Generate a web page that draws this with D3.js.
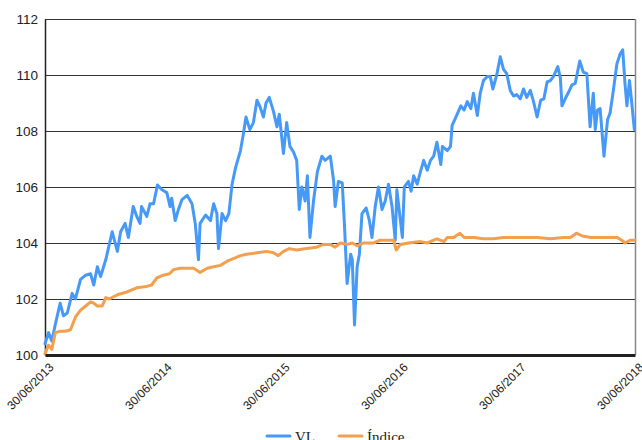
<!DOCTYPE html>
<html>
<head>
<meta charset="utf-8">
<script src="https://cdn.jsdelivr.net/npm/d3@7"></script>
<style>
  body { margin: 0; background: #fff; }
  svg { display: block; }
</style>
</head>
<body>
<div id="chart"></div>
<script>
// Chart size
var svgWidth = 642;
var svgHeight = 440;
var margin = { top: 19, right: 7, bottom: 85, left: 45 };
var width = svgWidth - margin.left - margin.right;
var height = svgHeight - margin.top - margin.bottom;

// Series names
var seriesNames = ["VL", "Índice"];

// Dates of the VL series
var vlDates = [
  "2013-06-30","2013-07-11","2013-07-21","2013-08-01","2013-08-16","2013-08-26","2013-09-07","2013-09-22",
  "2013-10-02","2013-10-18","2013-11-03","2013-11-18","2013-11-28","2013-12-09","2013-12-19","2014-01-04",
  "2014-01-24","2014-02-09","2014-02-19","2014-03-05","2014-03-15","2014-03-30","2014-04-10","2014-04-20",
  "2014-04-25","2014-05-11","2014-05-21","2014-06-01","2014-06-13","2014-06-27","2014-07-12","2014-07-22",
  "2014-07-27","2014-08-07","2014-08-17","2014-08-28","2014-09-13","2014-09-28","2014-10-08","2014-10-18",
  "2014-10-23","2014-11-09","2014-11-24","2014-12-04","2014-12-14","2014-12-19","2014-12-30","2015-01-10",
  "2015-01-20","2015-01-30","2015-02-10","2015-02-25","2015-03-06","2015-03-14","2015-03-26","2015-04-06",
  "2015-04-17","2015-04-27","2015-05-07","2015-05-15","2015-05-25","2015-06-07","2015-06-18","2015-06-25",
  "2015-07-08","2015-07-18","2015-07-28","2015-08-08","2015-08-18","2015-08-26","2015-09-03","2015-09-13",
  "2015-09-20","2015-09-28","2015-10-09","2015-10-21","2015-11-04","2015-11-14","2015-11-30","2015-12-10",
  "2015-12-15","2015-12-25","2016-01-06","2016-01-13","2016-01-21","2016-02-01","2016-02-06","2016-02-13",
  "2016-02-21","2016-02-28","2016-03-07","2016-03-20","2016-03-30","2016-04-07","2016-04-17","2016-04-27",
  "2016-05-08","2016-05-18","2016-05-28","2016-06-08","2016-06-18","2016-06-23","2016-07-03","2016-07-10",
  "2016-07-16","2016-07-29","2016-08-06","2016-08-14","2016-08-25","2016-09-04","2016-09-14","2016-09-25",
  "2016-10-05","2016-10-15","2016-10-25","2016-11-06","2016-11-11","2016-11-26","2016-12-06","2016-12-11",
  "2016-12-21","2017-01-07","2017-01-17","2017-01-27","2017-02-07","2017-02-15","2017-02-27","2017-03-08",
  "2017-03-18","2017-03-30","2017-04-08","2017-04-16","2017-04-28","2017-05-09","2017-05-19","2017-05-29",
  "2017-06-09","2017-06-19","2017-06-29","2017-07-10","2017-07-20","2017-07-30","2017-08-10","2017-08-20",
  "2017-08-31","2017-09-11","2017-09-21","2017-10-01","2017-10-11","2017-10-21","2017-11-03","2017-11-11",
  "2017-11-16","2017-11-26","2017-12-07","2017-12-17","2017-12-27","2018-01-10","2018-01-21","2018-02-01",
  "2018-02-11","2018-02-21","2018-02-27","2018-03-06","2018-03-14","2018-03-26","2018-04-06","2018-04-14",
  "2018-04-24","2018-05-05","2018-05-15","2018-05-23","2018-05-30","2018-06-05","2018-06-13","2018-06-20",
  "2018-06-28"
];
// VL values
var vlValues = [
  100.4,100.8,100.5,101.1,101.85,101.4,101.5,102.2,
  102.0,102.7,102.85,102.9,102.5,103.15,102.8,103.4,
  104.4,103.7,104.4,104.7,104.2,105.3,104.95,104.7,
  105.3,104.95,105.4,105.4,106.07,105.9,105.8,105.3,
  105.6,104.8,105.2,105.55,105.7,105.4,104.7,103.4,
  104.7,105.0,104.8,105.4,105.05,103.8,105.05,104.8,
  105.05,106.1,106.7,107.3,107.9,108.5,108.05,108.3,
  109.1,108.85,108.5,109.0,109.2,108.7,108.15,108.6,
  107.2,108.3,107.45,107.25,106.95,105.2,106.0,105.5,
  106.4,104.2,105.5,106.55,107.1,106.95,107.1,106.25,
  105.3,106.2,106.15,104.6,102.55,103.6,103.4,101.07,
  103.15,103.6,105.05,105.25,104.8,104.2,105.3,106.0,
  105.2,105.5,106.1,105.3,104.1,105.9,104.9,104.2,
  106.0,106.2,105.85,106.4,106.1,106.55,106.95,106.6,
  106.95,107.1,107.6,106.8,107.45,107.3,107.45,108.2,
  108.45,108.9,108.75,109.05,108.8,109.35,108.55,109.35,
  109.8,109.95,109.95,109.5,110.0,110.65,110.2,110.05,
  109.45,109.25,109.3,109.15,109.5,109.2,109.45,109.05,
  108.5,109.1,109.15,109.75,109.8,109.95,110.3,109.9,
  108.9,109.15,109.4,109.65,109.7,110.5,110.1,110.05,
  108.15,109.35,108.05,108.75,108.8,107.1,108.4,108.65,
  109.45,110.4,110.75,110.9,109.7,108.9,109.8,109.0,
  108.05
];

// Dates of the Índice series
var idxDates = [
  "2013-06-30","2013-07-11","2013-07-21","2013-08-01","2013-08-16","2013-09-01","2013-09-17","2013-10-02",
  "2013-10-18","2013-11-03","2013-11-18","2013-11-28","2013-12-09","2013-12-24","2014-01-04","2014-01-14",
  "2014-02-09","2014-03-10","2014-04-10","2014-05-11","2014-05-26","2014-06-11","2014-07-01","2014-07-20",
  "2014-08-02","2014-08-22","2014-09-13","2014-10-03","2014-10-23","2014-11-14","2014-12-04","2014-12-25",
  "2015-01-15","2015-02-05","2015-02-25","2015-03-16","2015-04-17","2015-05-17","2015-06-07","2015-06-22",
  "2015-07-08","2015-07-26","2015-08-18","2015-09-18","2015-10-19","2015-11-09","2015-11-30","2015-12-15",
  "2015-12-31","2016-01-21","2016-02-06","2016-02-21","2016-03-11","2016-04-12","2016-05-02","2016-05-23",
  "2016-06-13","2016-06-21","2016-07-04","2016-07-29","2016-09-04","2016-09-25","2016-10-15","2016-10-25",
  "2016-11-16","2016-11-26","2016-12-16","2017-01-04","2017-01-17","2017-02-17","2017-03-18","2017-04-18",
  "2017-05-19","2017-06-19","2017-07-20","2017-08-31","2017-10-11","2017-11-21","2017-12-12","2017-12-31",
  "2018-01-18","2018-02-13","2018-03-24","2018-05-05","2018-05-20","2018-05-30","2018-06-15","2018-06-30"
];
// Índice values
var idxValues = [
  100.05,100.35,100.2,100.8,100.85,100.85,100.9,101.35,
  101.6,101.75,101.9,101.85,101.75,101.75,102.05,102.0,
  102.15,102.25,102.4,102.45,102.5,102.75,102.85,102.9,
  103.05,103.1,103.1,103.1,102.95,103.1,103.15,103.2,
  103.35,103.45,103.55,103.6,103.65,103.7,103.65,103.55,
  103.7,103.8,103.75,103.8,103.85,103.95,103.95,103.85,
  104.0,103.95,104.0,103.9,104.0,104.0,104.1,104.1,
  104.1,103.75,103.95,104.0,104.05,104.0,104.1,104.15,
  104.05,104.2,104.2,104.35,104.2,104.2,104.15,104.15,
  104.2,104.2,104.2,104.2,104.15,104.2,104.2,104.35,
  104.25,104.2,104.2,104.2,104.1,104.0,104.1,104.1
];

// Axis ticks
var yTicks = [100, 102, 104, 106, 108, 110, 112];
var xTickLabels = ["30/06/2013", "30/06/2014", "30/06/2015", "30/06/2016", "30/06/2017", "30/06/2018"];

var parseDate = d3.timeParse("%Y-%m-%d");
var parseTick = d3.timeParse("%d/%m/%Y");

var vlData = vlDates.map(function(d, i) { return { date: parseDate(d), value: vlValues[i] }; });
var idxData = idxDates.map(function(d, i) { return { date: parseDate(d), value: idxValues[i] }; });
var xTicks = xTickLabels.map(parseTick);

var svg = d3.select("#chart")
  .append("svg")
  .attr("width", svgWidth)
  .attr("height", svgHeight);

var chartGroup = svg.append("g")
  .attr("transform", `translate(${margin.left}, ${margin.top})`);

var xScale = d3.scaleTime()
  .domain([xTicks[0], xTicks[xTicks.length - 1]])
  .range([0, width]);

var yScale = d3.scaleLinear()
  .domain([100, 112])
  .range([height, 0]);

// gridlines
chartGroup.append("g")
  .selectAll("line")
  .data(yTicks.slice(1))
  .enter()
  .append("line")
  .attr("x1", 0)
  .attr("x2", width)
  .attr("y1", d => Math.round(yScale(d)) + 0.5)
  .attr("y2", d => Math.round(yScale(d)) + 0.5)
  .attr("stroke", "#333")
  .attr("stroke-width", 1);

// right border
chartGroup.append("line")
  .attr("x1", width + 0.5)
  .attr("x2", width + 0.5)
  .attr("y1", 0)
  .attr("y2", height)
  .attr("stroke", "#888")
  .attr("stroke-width", 1.5);

// y axis labels
var leftAxis = d3.axisLeft(yScale)
  .tickValues(yTicks)
  .tickSize(0)
  .tickPadding(7)
  .tickFormat(d3.format("d"));

var yAxis = chartGroup.append("g").call(leftAxis);
yAxis.select(".domain").attr("stroke", "#222").attr("stroke-width", 1.5);
yAxis.selectAll("text")
  .attr("font-family", "Liberation Sans, Arial, sans-serif")
  .attr("font-size", "13.5px")
  .attr("fill", "#222");

// lines
var line = d3.line()
  .x(d => xScale(d.date))
  .y(d => yScale(d.value));

chartGroup.append("path")
  .datum(vlData)
  .attr("d", line)
  .attr("fill", "none")
  .attr("stroke", "#4699f7")
  .attr("stroke-width", 3)
  .attr("stroke-linejoin", "round")
  .attr("stroke-linecap", "round");

chartGroup.append("path")
  .datum(idxData)
  .attr("d", line)
  .attr("fill", "none")
  .attr("stroke", "#f2a04e")
  .attr("stroke-width", 3)
  .attr("stroke-linejoin", "round")
  .attr("stroke-linecap", "round");

// x axis
var bottomAxis = d3.axisBottom(xScale)
  .tickValues(xTicks)
  .tickSize(0)
  .tickFormat(d3.timeFormat("%d/%m/%Y"));

var xAxis = chartGroup.append("g")
  .attr("transform", `translate(0, ${height})`)
  .call(bottomAxis);
xAxis.select(".domain").attr("stroke", "#222").attr("stroke-width", 3);
xAxis.selectAll("text")
  .attr("font-family", "Liberation Sans, Arial, sans-serif")
  .attr("font-size", "12px")
  .attr("fill", "#222")
  .attr("text-anchor", "end")
  .attr("y", 0)
  .attr("dy", 0)
  .attr("transform", "translate(9, 13) rotate(-45)");

// legend
var legendColors = ["#4699f7", "#f2a04e"];
var legendX = [267, 339];
var legend = svg.append("g");

legend.selectAll("line")
  .data(seriesNames)
  .enter()
  .append("line")
  .attr("x1", (d, i) => legendX[i])
  .attr("x2", (d, i) => legendX[i] + 23)
  .attr("y1", 436)
  .attr("y2", 436)
  .attr("stroke", (d, i) => legendColors[i])
  .attr("stroke-width", 3)
  .attr("stroke-linecap", "round");

legend.selectAll("text")
  .data(seriesNames)
  .enter()
  .append("text")
  .attr("x", (d, i) => legendX[i] + 28)
  .attr("y", 442)
  .attr("font-family", "Liberation Serif, Times New Roman, serif")
  .attr("font-size", "15px")
  .attr("fill", "#222")
  .text(d => d);
</script>
</body>
</html>
